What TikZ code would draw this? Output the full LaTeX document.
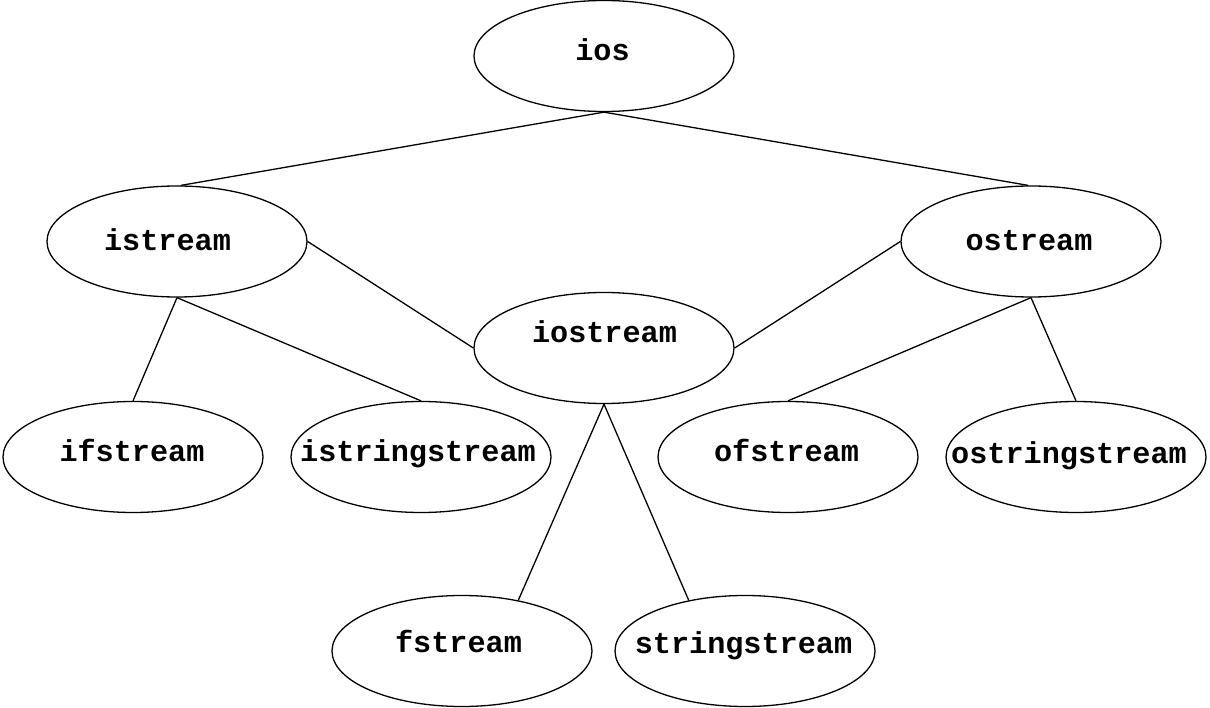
\documentclass[tikz,border=0pt]{standalone}
\usepackage{fontspec}
\newfontfamily\courfont{Liberation Mono}
\usetikzlibrary{shapes.geometric,calc}
\tikzset{
  cls/.style={ellipse, draw=black, line width=1.3pt, minimum width=260pt, minimum height=111pt, inner sep=0pt},
  lbl/.style={inner sep=0pt, anchor=base, yshift=-3pt, font=\courfont\bfseries\fontsize{30.2}{36}\selectfont},
  edge/.style={draw=black, line width=1.3pt}
}
\begin{document}
\begin{tikzpicture}[x=1pt,y=-1pt]
\useasboundingbox (0,0) rectangle (1210,708);
\node[cls] (ios) at (604,56) {};
\node[cls] (istream) at (177,241.5) {};
\node[cls] (ostream) at (1031,241.5) {};
\node[cls] (iostream) at (604,348) {};
\node[cls] (ifstream) at (133,457) {};
\node[cls] (istringstream) at (421,457) {};
\node[cls] (ofstream) at (788,457) {};
\node[cls] (ostringstream) at (1076,457) {};
\node[cls] (fstream) at (462,651) {};
\node[cls] (stringstream) at (745,651) {};
\node[lbl] (t-ios) at ($(ios)+(-1.5,2)$) {ios};
\node[lbl] (t-istream) at ($(istream)+(-9.5,6)$) {istream};
\node[lbl] (t-ostream) at ($(ostream)+(-2,6)$) {ostream};
\node[lbl] (t-iostream) at ($(iostream)+(0.5,-8)$) {iostream};
\node[lbl] (t-ifstream) at ($(ifstream)+(-1,1)$) {ifstream};
\node[lbl] (t-istringstream) at ($(istringstream)+(-3,1)$) {istringstream};
\node[lbl] (t-ofstream) at ($(ofstream)+(-1.5,1)$) {ofstream};
\node[lbl] (t-ostringstream) at ($(ostringstream)+(-7,3)$) {ostringstream};
\node[lbl] (t-fstream) at ($(fstream)+(-3.5,-2)$) {fstream};
\node[lbl] (t-stringstream) at ($(stringstream)+(-1.5,-1)$) {stringstream};
\draw[edge] (ios.south) -- (istream.86);
\draw[edge] (ios.south) -- (ostream.93);
\draw[edge] (istream.east) -- (iostream.west);
\draw[edge] (ostream.west) -- (iostream.east);
\draw[edge] (istream.south) -- (ifstream.north);
\draw[edge] (istream.south) -- (istringstream.north);
\draw[edge] (ostream.south) -- (ofstream.north);
\draw[edge] (ostream.south) -- (ostringstream.north);
\draw[edge] (iostream.south) -- (fstream.42);
\draw[edge] (iostream.south) -- (stringstream.138);
\end{tikzpicture}
\end{document}
